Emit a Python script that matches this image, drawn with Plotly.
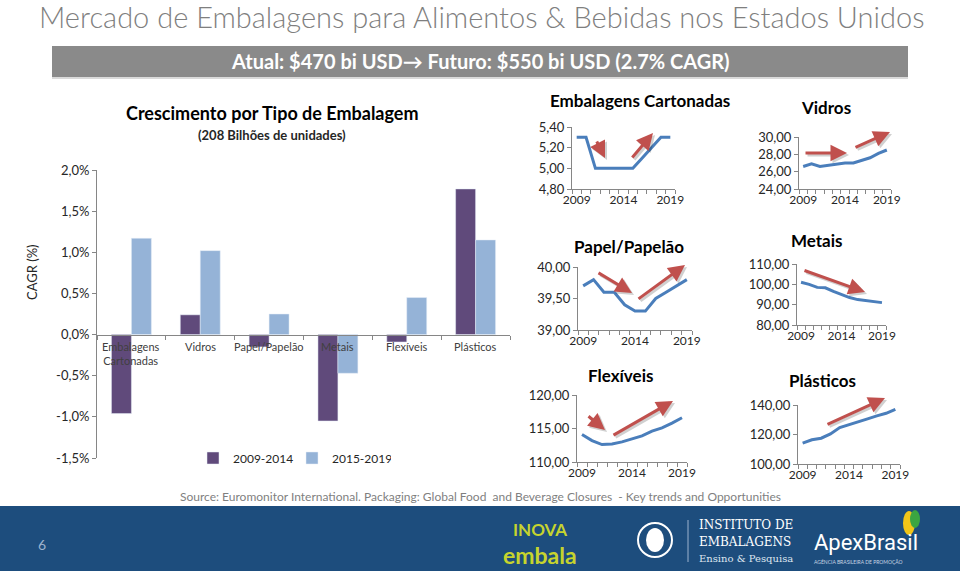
import plotly.graph_objects as go

W, H = 960, 571

# ---------------- data ----------------
categories = ["Embalagens<br>Cartonadas", "Vidros", "Papel/Papelão", "Metais", "Flexíveis", "Plásticos"]
series_names = ["2009-2014", "2015-2019"]
cagr_2009_2014 = [-0.96, 0.24, -0.15, -1.05, -0.09, 1.77]
cagr_2015_2019 = [1.17, 1.02, 0.25, -0.47, 0.45, 1.15]
cagr_tickvals = [-1.5, -1.0, -0.5, 0.0, 0.5, 1.0, 1.5, 2.0]
cagr_ticktext = ["-1,5%", "-1,0%", "-0,5%", "0,0%", "0,5%", "1,0%", "1,5%", "2,0%"]

years = list(range(2009, 2020))
year_ticks = [2009, 2014, 2019]
cartonadas = [5.3, 5.3, 5.0, 5.0, 5.0, 5.0, 5.0, 5.1, 5.2, 5.3, 5.3]
vidros = [26.6, 26.9, 26.6, 26.75, 26.9, 27.0, 27.0, 27.3, 27.6, 28.1, 28.5]
papel = [39.7, 39.8, 39.6, 39.6, 39.4, 39.3, 39.3, 39.5, 39.6, 39.7, 39.8]
metais = [101, 100, 98.5, 98.3, 96.5, 95, 93.5, 92.5, 92, 91.5, 91]
flexiveis = [114.1, 113.2, 112.6, 112.7, 113.0, 113.4, 113.9, 114.6, 115.1, 115.8, 116.6]
plasticos = [114.2, 116.4, 117.5, 120.4, 124.7, 126.5, 128.8, 130.6, 132.6, 134.4, 137.1]

cartonadas_ticks = [4.8, 5.0, 5.2, 5.4]
vidros_ticks = [24, 26, 28, 30]
papel_ticks = [39.0, 39.5, 40.0]
metais_ticks = [80, 90, 100, 110]
flexiveis_ticks = [110, 115, 120]
plasticos_ticks = [100, 120, 140]

slide_title = "Mercado de Embalagens para Alimentos & Bebidas nos Estados Unidos"
banner_text = "Atual: $470 bi USD→ Futuro: $550 bi USD (2.7% CAGR)"
chart_title = "Crescimento por Tipo de Embalagem"
chart_subtitle = "(208 Bilhões de unidades)"
source_text = "Source: Euromonitor International. Packaging: Global Food  and Beverage Closures  - Key trends and Opportunities"

# ---------------- styles ----------------
FONT = "Lato, 'Open Sans', sans-serif"
DARK = "#604A7B"
LIGHT = "#95B3D7"
LINE = "#4A7EBB"
ARROW = "#C0504D"
AXIS = "#868686"
TXT = "#262626"


def fx(p):
    return p / W


def fy(p):
    return 1 - p / H


def txt(x, y, text, size, color, xanchor="center", yanchor="middle", **kw):
    font = dict(size=size, color=color)
    font.update(kw.pop("font", {}))
    d = dict(x=fx(x), y=fy(y), xref="paper", yref="paper", text=text, showarrow=False,
             xanchor=xanchor, yanchor=yanchor, font=font)
    d.update(kw)
    return d


fig = go.Figure()

# ---------------- main bar chart ----------------
fig.add_trace(go.Bar(x=categories, y=cagr_2009_2014, name=series_names[0],
                     marker=dict(color=DARK), xaxis="x", yaxis="y"))
fig.add_trace(go.Bar(x=categories, y=cagr_2015_2019, name=series_names[1],
                     marker=dict(color=LIGHT), xaxis="x", yaxis="y"))

ymin, ymax = -1.5, 2.0
ydom = [fy(458), fy(170)]
zero_pos = ydom[0] + (0 - ymin) / (ymax - ymin) * (ydom[1] - ydom[0])

layout = dict(
    width=W, height=H,
    margin=dict(l=0, r=0, t=0, b=0, pad=0, autoexpand=False),
    paper_bgcolor="white", plot_bgcolor="rgba(0,0,0,0)",
    font=dict(family=FONT, color=TXT, size=12),
    separators=",.",
    barmode="group", bargap=0.42, bargroupgap=0.0,
    showlegend=True,
    legend=dict(orientation="h", x=fx(193), y=fy(458), xanchor="left", yanchor="middle",
                font=dict(size=12, color=TXT), bgcolor="rgba(0,0,0,0)",
                itemwidth=30, entrywidth=54, traceorder="normal"),
    xaxis=dict(domain=[fx(97), fx(510)], anchor="free", position=zero_pos,
               showline=True, linecolor=AXIS, linewidth=1,
               ticks="outside", tickson="boundaries", ticklen=4, tickcolor=AXIS,
               showticklabels=False, showgrid=False, zeroline=False, automargin=False),
    yaxis=dict(domain=ydom, range=[ymin, ymax], anchor="x",
               tickvals=cagr_tickvals, ticktext=cagr_ticktext,
               showline=True, linecolor=AXIS, ticks="outside", ticklen=4, tickcolor=AXIS,
               showgrid=False, zeroline=False, tickfont=dict(size=13, color=TXT),
               automargin=False),
)

annotations = []
shapes = []

# category labels just below the zero line
for c in categories:
    annotations.append(dict(x=c, y=0, xref="x", yref="y", xanchor="center", yanchor="top",
                            yshift=-3, text=c, showarrow=False,
                            font=dict(size=11, color="#404040")))

# ---------------- mini line charts ----------------
minis = [
    dict(vals=cartonadas, ticks=cartonadas_ticks, yr=[4.8, 5.4],
         box=(572, 675, 189, 127), title="Embalagens Cartonadas", tpos=(640, 100)),
    dict(vals=vidros, ticks=vidros_ticks, yr=[24, 30],
         box=(799, 891, 189, 137), title="Vidros", tpos=(826, 107)),
    dict(vals=papel, ticks=papel_ticks, yr=[39, 40],
         box=(578, 692, 330, 267), title="Papel/Papelão", tpos=(629, 246)),
    dict(vals=metais, ticks=metais_ticks, yr=[80, 110],
         box=(797, 886, 325, 264), title="Metais", tpos=(817, 240)),
    dict(vals=flexiveis, ticks=flexiveis_ticks, yr=[110, 120],
         box=(577, 687, 462, 395), title="Flexíveis", tpos=(620, 375)),
    dict(vals=plasticos, ticks=plasticos_ticks, yr=[100, 140],
         box=(798, 900, 464, 405), title="Plásticos", tpos=(822, 380)),
]

for i, m in enumerate(minis):
    n = i + 2
    xa, ya = f"x{n}", f"y{n}"
    x0, x1, yb, yt = m["box"]
    fig.add_trace(go.Scatter(x=years, y=m["vals"], mode="lines", xaxis=xa, yaxis=ya,
                             line=dict(color=LINE, width=3), showlegend=False,
                             hoverinfo="skip"))
    layout[f"xaxis{n}"] = dict(domain=[fx(x0), fx(x1)], anchor=ya, range=[2008.5, 2019.5],
                               tickvals=year_ticks, ticks="", showline=True, linecolor=AXIS,
                               showgrid=False, zeroline=False, automargin=False,
                               tickfont=dict(size=12, color=TXT),
                               minor=dict(ticks="outside", ticklen=4, tickcolor=AXIS,
                                          tickvals=[y - 0.5 for y in years] + [2019.5]))
    layout[f"yaxis{n}"] = dict(domain=[fy(yb), fy(yt)], anchor=xa, range=m["yr"],
                               tickvals=m["ticks"], tickformat=".2f", ticks="outside",
                               ticklen=4, tickcolor=AXIS, showline=True, linecolor=AXIS,
                               showgrid=False, zeroline=False, automargin=False,
                               tickfont=dict(size=13, color=TXT))
    annotations.append(txt(m["tpos"][0], m["tpos"][1], f"<b>{m['title']}</b>", 17, "#000000"))

# red trend arrows (decorations), pixel coordinates tail -> head
arrows = [
    (596, 140, 605, 158), (631, 159, 653, 133),
    (804, 153, 847, 153), (854, 148, 890, 132),
    (597, 272, 632, 293), (637, 300, 685, 265),
    (803, 270, 865, 292),
    (587, 415, 605, 430), (612, 436, 673, 401),
    (826, 425, 885, 398),
]
for (ax0, ay0, ax1, ay1) in arrows:
    for dx, col in ((2, "rgba(0,0,0,0.18)"), (0, ARROW)):
        annotations.append(dict(x=fx(ax1 + dx), y=fy(ay1 + dx), xref="paper", yref="paper",
                                ax=ax0 - ax1, ay=ay0 - ay1, axref="pixel", ayref="pixel",
                                text="", showarrow=True, arrowhead=2, arrowsize=1.1,
                                arrowwidth=3, arrowcolor=col))

# ---------------- slide texts ----------------
annotations += [
    txt(481, 17, slide_title, 29, "#7F7F7F", font=dict(weight=300)),
    txt(480, 61, f"<b>{banner_text}</b>", 20, "white"),
    txt(272, 113, f"<b>{chart_title}</b>", 18, "#000000"),
    txt(272, 135, f"<b>{chart_subtitle}</b>", 13, "#262626"),
    txt(32, 272, "CAGR (%)", 13, TXT, textangle=-90),
    txt(480, 496, source_text, 12, "#7F7F7F"),
    # footer
    txt(42, 544, "6", 14, "#9DB3CF"),
    txt(540, 529, "<b>INOVA</b>", 17, "#C6D42E"),
    txt(540, 555, "<b>embala</b>", 23, "#C6D42E"),
    txt(697, 525, "INSTITUTO DE", 12, "white", xanchor="left",
        font=dict(family="'DejaVu Serif', serif")),
    txt(697, 542, "EMBALAGENS", 12, "white", xanchor="left",
        font=dict(family="'DejaVu Serif', serif")),
    txt(697, 558, "Ensino & Pesquisa", 10, "#DDE6F0", xanchor="left",
        font=dict(family="'DejaVu Serif', serif")),
    txt(812, 542, "ApexBrasil", 22, "white", xanchor="left",
        font=dict(family="Roboto, sans-serif")),
    txt(812, 561, "AGÊNCIA BRASILEIRA DE PROMOÇÃO", 5, "#C9D5E3", xanchor="left"),
]

shapes += [
    # grey banner
    dict(type="rect", xref="paper", yref="paper", x0=fx(52), x1=fx(908), y0=fy(77), y1=fy(46),
         fillcolor="#8A8A8A", line=dict(width=0), layer="below"),
    dict(type="line", xref="paper", yref="paper", x0=fx(52), x1=fx(908), y0=fy(78), y1=fy(78),
         line=dict(color="#B5B5B5", width=1), layer="below"),
    # footer band
    dict(type="rect", xref="paper", yref="paper", x0=0, x1=1, y0=0, y1=fy(506),
         fillcolor="#1D4D7D", line=dict(width=0), layer="below"),
    # institute logo
    dict(type="circle", xref="paper", yref="paper", x0=fx(638), x1=fx(672), y0=fy(557), y1=fy(523),
         line=dict(color="white", width=2), fillcolor="rgba(0,0,0,0)"),
    dict(type="circle", xref="paper", yref="paper", x0=fx(646), x1=fx(664), y0=fy(552), y1=fy(528),
         line=dict(width=0), fillcolor="white"),
    dict(type="line", xref="paper", yref="paper", x0=fx(688), x1=fx(688), y0=fy(562), y1=fy(520),
         line=dict(color="#9DB3CF", width=1)),
    # apex icon
    dict(type="circle", xref="paper", yref="paper", x0=fx(903), x1=fx(915), y0=fy(535), y1=fy(511),
         line=dict(width=0), fillcolor="#F2C518"),
    dict(type="circle", xref="paper", yref="paper", x0=fx(910), x1=fx(920), y0=fy(528), y1=fy(510),
         line=dict(width=0), fillcolor="#3BA541"),
]

layout["annotations"] = annotations
layout["shapes"] = shapes
fig.update_layout(**layout)

fig.write_html("out.html", config=dict(displayModeBar=False),
               post_script="document.body.style.margin='0';document.body.style.overflow='hidden';")
